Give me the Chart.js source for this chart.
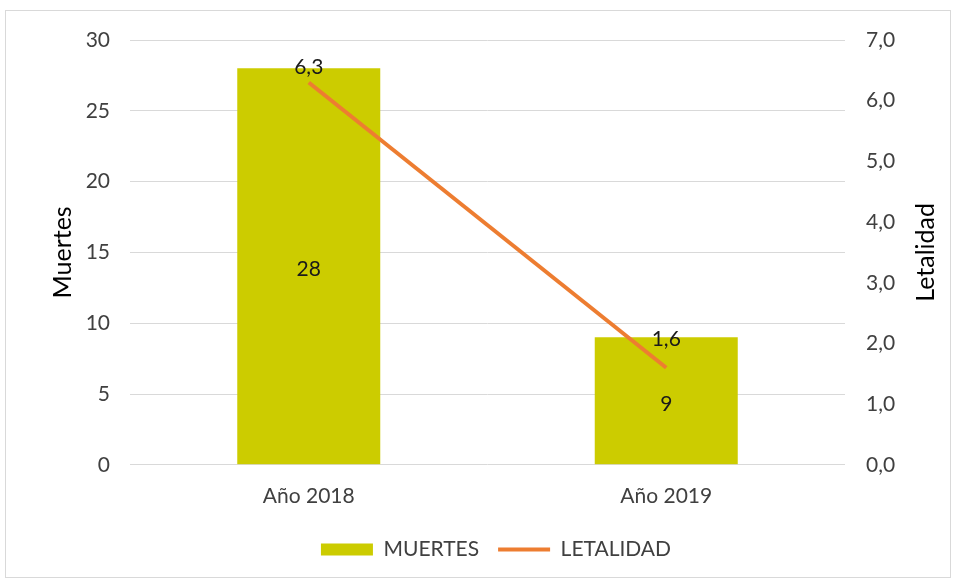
<!DOCTYPE html>
<html>
<head>
<meta charset="utf-8">
<script src="https://cdn.jsdelivr.net/npm/chart.js@4/dist/chart.umd.min.js"></script>
<style>
  body{ margin:0; background:#fff; }
  #cadre{ position:absolute; left:5px; top:10px; width:944px; height:566px; border:1px solid #d9d9d9; }
</style>
</head>
<body>
<div id="cadre"><canvas id="chart" width="944" height="566"></canvas></div>
<script>
// categorias y series
const anios = ['Año 2018', 'Año 2019'];
const muertes = [28, 9];
const letalidad = [6.3, 1.6];

const couleurBarre = '#cccc00';
const couleurLigne = '#ed7d31';
const police = "Lato, sans-serif";

// desplazamiento vertical de las etiquetas de la linea (en px)
const decalageLigne = [15, 28];

const virgule = (v, d) => v.toFixed(d).replace('.', ',');

// etiquetas de datos + titulo del eje derecho
const etiquettes = {
    id: 'etiquettes',
    afterDatasetsDraw(chart){
        const ctx = chart.ctx;
        ctx.save();
        ctx.font = '21px ' + police;
        ctx.fillStyle = '#1a1a1a';
        ctx.textAlign = 'center';
        ctx.textBaseline = 'middle';
        chart.getDatasetMeta(0).data.forEach((b, i) => {
            ctx.fillText(String(muertes[i]), b.x, (b.y + b.base) / 2 + 3);
        });
        chart.getDatasetMeta(1).data.forEach((p, i) => {
            ctx.fillText(virgule(letalidad[i], 1), p.x, p.y - decalageLigne[i]);
        });
        // titre axe droit, lu de bas en haut comme a gauche
        const y1 = chart.scales.y1;
        ctx.font = '25px ' + police;
        ctx.fillStyle = '#000';
        ctx.translate(920, (y1.top + y1.bottom) / 2);
        ctx.rotate(-Math.PI / 2);
        ctx.fillText('Letalidad', 0, 0);
        ctx.restore();
    }
};

var ctx = document.getElementById('chart').getContext('2d');
new Chart(ctx, {
    data: {
        labels: anios,
        datasets: [{
            type: 'bar',
            label: 'MUERTES',
            data: muertes,
            backgroundColor: couleurBarre,
            borderWidth: 0,
            barPercentage: 0.4,
            categoryPercentage: 1,
            pointStyle: 'rect',
            yAxisID: 'y',
            order: 2
        }, {
            type: 'line',
            label: 'LETALIDAD',
            data: letalidad,
            borderColor: couleurLigne,
            backgroundColor: couleurLigne,
            borderWidth: 4,
            pointRadius: 0,
            pointStyle: 'line',
            yAxisID: 'y1',
            order: 1
        }]
    },
    options: {
        responsive: false,
        animation: false,
        layout: { padding: { top: 29, left: 36, right: 0, bottom: 7 } },
        plugins: {
            tooltip: { enabled: false },
            legend: {
                position: 'bottom',
                labels: {
                    usePointStyle: true,
                    pointStyleWidth: 52,
                    boxHeight: 12,
                    padding: 19,
                    color: '#404040',
                    font: { family: police, size: 21 },
                    sort: (a, b) => a.datasetIndex - b.datasetIndex
                }
            }
        },
        scales: {
            x: {
                grid: { display: false },
                border: { display: false },
                ticks: { color: '#404040', font: { family: police, size: 21 }, padding: 11 }
            },
            y: {
                position: 'left',
                min: 0, max: 30,
                ticks: { stepSize: 5, color: '#404040', font: { family: police, size: 21 }, padding: 20 },
                grid: { color: '#d9d9d9', drawTicks: false },
                border: { display: false },
                title: { display: true, text: 'Muertes', color: '#000', font: { family: police, size: 25 }, padding: 6 },
                afterFit(scale){ scale.width = 88; scale.paddingTop = 0; scale.paddingBottom = 0; }
            },
            y1: {
                position: 'right',
                min: 0, max: 7,
                ticks: {
                    stepSize: 1, color: '#404040', font: { family: police, size: 21 }, padding: 21,
                    callback: (v) => virgule(v, 1)
                },
                grid: { display: false, drawTicks: false },
                border: { display: false },
                afterFit(scale){ scale.width = 105; scale.paddingTop = 0; scale.paddingBottom = 0; }
            }
        }
    },
    plugins: [etiquettes]
});
</script>
</body>
</html>
